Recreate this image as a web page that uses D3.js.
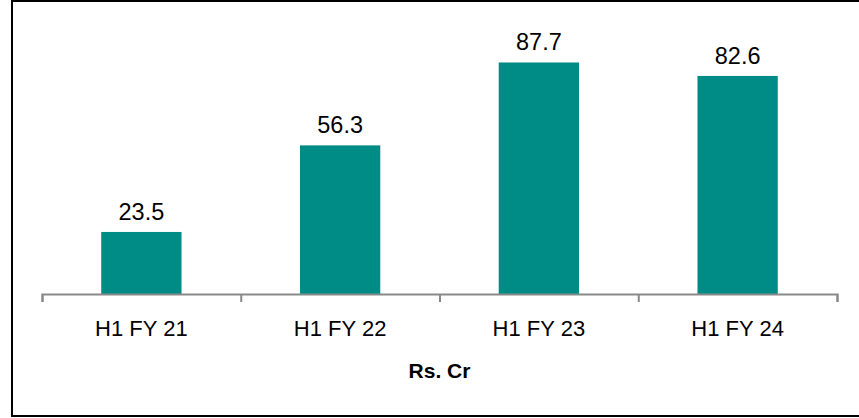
<!DOCTYPE html>
<html>
<head>
<meta charset="utf-8">
<script src="https://cdn.jsdelivr.net/npm/d3@7"></script>
<style>
  body { margin: 0; background: #fff; }
  svg text { font-family: "Liberation Sans", Arial, sans-serif; fill: #000; }
</style>
</head>
<body>
<div id="chart"></div>
<script>
/* DATA */
const categories = ["H1 FY 21", "H1 FY 22", "H1 FY 23", "H1 FY 24"];
const values = [23.5, 56.3, 87.7, 82.6];
const axisTitle = "Rs. Cr";

/* CONSTANTS */
const width = 859,
  height = 418,
  plot = { left: 42, right: 837, bottom: 294, top: 30 };

const svg = d3.select("#chart")
  .append("svg")
    .attr("width", width)
    .attr("height", height);

// chart frame (right edge is cut off in the original)
svg.append("rect")
  .attr("x", 12)
  .attr("y", 1)
  .attr("width", width)
  .attr("height", 415)
  .attr("fill", "none")
  .attr("stroke", "#000")
  .attr("stroke-width", 2);

const xScale = d3.scaleBand()
  .domain(categories)
  .range([plot.left, plot.right])
  .paddingInner(0.596)
  .paddingOuter(0.298);

const yScale = d3.scaleLinear()
  .domain([0, 100])
  .range([plot.bottom, plot.top]);

// boundary ticks between categories
const tickScale = d3.scaleLinear()
  .domain([0, categories.length])
  .range([plot.left, plot.right]);

svg.selectAll(".bar")
  .data(values)
  .join("rect")
    .attr("class", "bar")
    .attr("x", (d, i) => xScale(categories[i]))
    .attr("y", d => yScale(d))
    .attr("width", xScale.bandwidth())
    .attr("height", d => yScale(0) - yScale(d))
    .attr("fill", "#008C86");

svg.selectAll(".value-label")
  .data(values)
  .join("text")
    .attr("class", "value-label")
    .attr("x", (d, i) => xScale(categories[i]) + xScale.bandwidth() / 2)
    .attr("y", d => yScale(d) - 12)
    .attr("text-anchor", "middle")
    .style("font-size", "23.5px")
    .text(d => d.toFixed(1));

svg.append("g")
  .attr("class", "x-ticks")
  .attr("transform", `translate(0,${plot.bottom})`)
  .call(d3.axisBottom(tickScale).ticks(categories.length).tickSize(8).tickSizeOuter(8).tickFormat(""))
  .call(g => g.selectAll("path, line").attr("stroke", "#898989").attr("stroke-width", 2));

svg.append("g")
  .attr("class", "x-axis")
  .attr("transform", `translate(0,${plot.bottom})`)
  .call(d3.axisBottom(xScale).tickSize(0).tickPadding(0))
  .call(g => g.select(".domain").remove())
  .call(g => g.selectAll("text")
    .attr("y", 42)
    .attr("dy", 0)
    .style("font-size", "22px")
    .style("font-family", "'Liberation Sans', Arial, sans-serif")
    .attr("fill", "#000"));

svg.append("text")
  .attr("x", (plot.left + plot.right) / 2)
  .attr("y", 378)
  .attr("text-anchor", "middle")
  .style("font-size", "21px")
  .style("font-weight", "bold")
  .text(axisTitle);
</script>
</body>
</html>
